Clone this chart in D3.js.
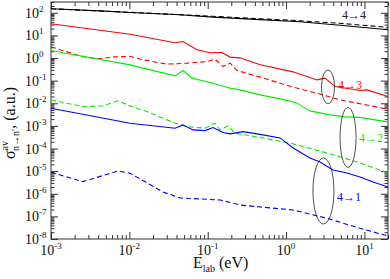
<!DOCTYPE html>
<html>
<head>
<meta charset="utf-8">
<script src="https://cdn.jsdelivr.net/npm/d3@7"></script>
<style>
  body { margin: 0; background: #fff; }
  text { font-family: "Liberation Serif", "Times New Roman", serif; }
</style>
</head>
<body>
<div id="chart"></div>
<script>
// 4->4 (black)
const eBlackSolid = [0.001, 0.00421, 0.0102, 0.0443, 0.117, 0.466, 1.51, 4.89, 20];
const sBlackSolid = [150, 122, 103, 81.6, 64.6, 50, 40, 28, 17.7];
const eBlackDash = [0.001, 0.0102, 0.117, 0.466, 1.51, 4.89, 20];
const sBlackDash = [150, 105, 70, 54.3, 44.3, 34.3, 22.8];
// 4->3 (red)
const eRedSolid = [0.001, 0.0102, 0.0383, 0.0484, 0.0729, 0.107, 0.152, 0.193, 0.258, 0.466, 1.23, 2.48, 3.14, 4.22, 8.79, 10.8, 20];
const sRedSolid = [32.6, 11.2, 4.71, 5.37, 2.31, 1.70, 1.75, 1.10, 1.02, 0.50, 0.245, 0.108, 0.129, 0.0548, 0.0365, 0.0392, 0.0198];
const eRedDash = [0.001, 0.00256, 0.00421, 0.00618, 0.0102, 0.0149, 0.0302, 0.0545, 0.098, 0.124, 0.157, 0.193, 0.237, 0.466, 1.23, 2.48, 4.89, 20];
const sRedDash = [3.13, 1.13, 0.923, 1.13, 1.19, 0.832, 0.537, 0.594, 0.700, 0.893, 0.421, 0.594, 0.280, 0.143, 0.0515, 0.0280, 0.0141, 0.00548];
// 4->2 (green)
const eGreenSolid = [0.001, 0.0102, 0.0383, 0.0484, 0.0631, 0.117, 0.193, 0.258, 0.466, 0.838, 1.38, 1.64, 2.02, 2.71, 3.64, 5.65, 8.79, 13.6, 20];
const sGreenSolid = [2.15, 0.50, 0.163, 0.280, 0.129, 0.0774, 0.0466, 0.0392, 0.0236, 0.0157, 0.0104, 0.00694, 0.00461, 0.00376, 0.00307, 0.00250, 0.00238, 0.00184, 0.00150];
const eGreenDash = [0.001, 0.00256, 0.00461, 0.00716, 0.0102, 0.0168, 0.0383, 0.0545, 0.0925, 0.124, 0.144, 0.182, 0.223, 0.466, 1.23, 3.33, 8.79, 20];
const sGreenDash = [0.0141, 0.00714, 0.00767, 0.0128, 0.00767, 0.00430, 0.00131, 0.000931, 0.000791, 0.00131, 0.000665, 0.001, 0.000475, 0.000310, 0.000160, 6.38e-5, 2.31e-5, 8.32e-6];
// 4->1 (blue)
const eBlueSolid = [0.001, 0.0102, 0.0383, 0.0484, 0.0649, 0.0925, 0.117, 0.157, 0.193, 0.282, 0.466, 0.838, 1.23, 2.02, 2.71, 3.97, 6.0, 8.79, 12.9, 20];
const sBlueSolid = [0.00607, 0.00131, 0.000791, 0.00111, 0.000665, 0.000620, 0.000841, 0.000506, 0.000443, 0.000560, 0.000421, 0.000294, 0.000106, 3.84e-5, 2.55e-5, 1.13e-5, 8.32e-6, 5.53e-6, 3.33e-6, 2.0e-6];
const eBlueDash = [0.001, 0.00256, 0.00716, 0.0102, 0.0168, 0.0268, 0.0443, 0.0798, 0.144, 0.258, 0.466, 1.23, 3.33, 8.79, 20];
const sBlueDash = [8.93e-6, 3.43e-6, 1.02e-5, 8.07e-6, 3.01e-6, 1.20e-6, 6.52e-7, 5.89e-7, 5.32e-7, 3.19e-7, 2.61e-7, 1.92e-7, 8.24e-8, 2.97e-8, 1.36e-8];

const xExponents = [-3, -2, -1, 0, 1];
const yExponents = [-8, -7, -6, -5, -4, -3, -2, -1, 0, 1, 2];

const labelText = ["4\u21924", "4\u21923", "4\u21922", "4\u21921"];
const labelColor = ["#222", "#ff0000", "#00ee00", "#0000ff"];
const labelE = [5.17, 4.6, 8.53, 4.47];
const labelS = [54, 0.0434, 1.96e-4, 4.8e-7];

const ellipseE = [3.43, 6.18, 3.0];
const ellipseS = [0.0532, 3.1e-4, 1.33e-6];

let margin = { top: 2, right: 2, bottom: 40, left: 51 },
    width = 390 - margin.left - margin.right,
    height = 279 - margin.top - margin.bottom;

let x = d3.scaleLog().domain([1e-3, 20]).range([0, width]);
let y = d3.scaleLog().domain([1e-8, 300]).range([height, 0]);

let svg = d3.select("#chart").append("svg")
    .attr("width", 390)
    .attr("height", 279)
    .append("g")
    .attr("transform", "translate(" + margin.left + "," + margin.top + ")");

// tick values
function minorTicks(lo, hi) {
    let out = [];
    for (let p = Math.floor(Math.log10(lo)); p <= Math.ceil(Math.log10(hi)); p++) {
        for (let m = 2; m <= 9; m++) {
            let v = m * Math.pow(10, p);
            if (v >= lo && v <= hi) out.push(v);
        }
    }
    return out;
}
let xMajor = xExponents.map(function(p) { return Math.pow(10, p); });
let yMajor = yExponents.map(function(p) { return Math.pow(10, p); });
let xMinor = minorTicks(1e-3, 20);
let yMinor = minorTicks(1e-8, 300);

function drawAxis(axisFn, vals, size, transform) {
    let g = svg.append("g")
        .attr("transform", transform)
        .call(axisFn.tickValues(vals).tickSize(size).tickFormat(""));
    g.select(".domain").remove();
    g.selectAll("line").attr("stroke", "#333").attr("stroke-width", 1);
}

// inward ticks on all four sides
drawAxis(d3.axisBottom(x), xMajor, -7, "translate(0," + height + ")");
drawAxis(d3.axisBottom(x), xMinor, -4, "translate(0," + height + ")");
drawAxis(d3.axisTop(x), xMajor, -7, "translate(0,0)");
drawAxis(d3.axisTop(x), xMinor, -4, "translate(0,0)");
drawAxis(d3.axisLeft(y), yMajor, -7, "translate(0,0)");
drawAxis(d3.axisLeft(y), yMinor, -3.5, "translate(0,0)");
drawAxis(d3.axisRight(y), yMajor, -7, "translate(" + width + ",0)");
drawAxis(d3.axisRight(y), yMinor, -3.5, "translate(" + width + ",0)");

// frame
svg.append("rect")
    .attr("width", width)
    .attr("height", height)
    .attr("fill", "none")
    .attr("stroke", "#333")
    .attr("stroke-width", 1);

// tick labels
xExponents.forEach(function(p) {
    let t = svg.append("text")
        .attr("x", x(Math.pow(10, p)))
        .attr("y", height + 16)
        .attr("text-anchor", "middle")
        .attr("font-size", 14)
        .attr("fill", "#111");
    t.append("tspan").text("10");
    t.append("tspan").attr("font-size", 9).attr("dy", -6).text(p);
});
yExponents.forEach(function(p) {
    let t = svg.append("text")
        .attr("x", -26)
        .attr("y", y(Math.pow(10, p)) + 5)
        .attr("font-size", 14)
        .attr("fill", "#111");
    t.append("tspan").text("10");
    t.append("tspan").attr("font-size", 9).attr("dy", -6).text(p);
});

// axis titles
let xt = svg.append("text")
    .attr("x", 142)
    .attr("y", height + 29)
    .attr("font-size", 16)
    .attr("fill", "#111");
xt.append("tspan").text("E");
xt.append("tspan").attr("font-size", 10).attr("dy", 4).text("lab");
xt.append("tspan").attr("dy", -4).text(" (eV)");

let yt = svg.append("text")
    .attr("transform", "translate(-36,157) rotate(-90)")
    .attr("font-size", 16)
    .attr("fill", "#111");
yt.append("tspan").text("\u03c3");
yt.append("tspan").attr("font-size", 10).attr("dy", -7).text("av");
yt.append("tspan").attr("font-size", 10).attr("dx", -10).attr("dy", 11).text("n\u2192n\u2032");
yt.append("tspan").attr("dy", -4).text(", (a.u.)");

// curves
let line = d3.line()
    .x(function(d) { return x(d[0]); })
    .y(function(d) { return y(d[1]); });

let series = [
    { e: eBlackSolid, s: sBlackSolid, c: "#000", dash: null },
    { e: eBlackDash, s: sBlackDash, c: "#000", dash: "5,3" },
    { e: eRedSolid, s: sRedSolid, c: "#ff0000", dash: null },
    { e: eRedDash, s: sRedDash, c: "#ff0000", dash: "5,3" },
    { e: eGreenSolid, s: sGreenSolid, c: "#00ee00", dash: null },
    { e: eGreenDash, s: sGreenDash, c: "#00ee00", dash: "5,3" },
    { e: eBlueSolid, s: sBlueSolid, c: "#0000ff", dash: null },
    { e: eBlueDash, s: sBlueDash, c: "#0000ff", dash: "5,3" }
];

svg.selectAll(".curve")
    .data(series)
    .enter()
    .append("path")
    .attr("class", "curve")
    .attr("fill", "none")
    .attr("stroke", function(d) { return d.c; })
    .attr("stroke-width", 1.1)
    .attr("stroke-dasharray", function(d) { return d.dash; })
    .attr("d", function(d) { return line(d.e.map(function(v, i) { return [v, d.s[i]]; })); });

// annotations
let ellR = [[6.5, 17], [8, 30], [10.5, 33]];
ellipseE.forEach(function(e, i) {
    svg.append("ellipse")
        .attr("cx", x(e))
        .attr("cy", y(ellipseS[i]))
        .attr("rx", ellR[i][0])
        .attr("ry", ellR[i][1])
        .attr("fill", "none")
        .attr("stroke", "#222")
        .attr("stroke-width", 0.8);
});

labelText.forEach(function(txt, i) {
    svg.append("text")
        .attr("x", x(labelE[i]))
        .attr("y", y(labelS[i]))
        .attr("font-size", 12)
        .attr("fill", labelColor[i])
        .text(txt);
});
</script>
</body>
</html>
